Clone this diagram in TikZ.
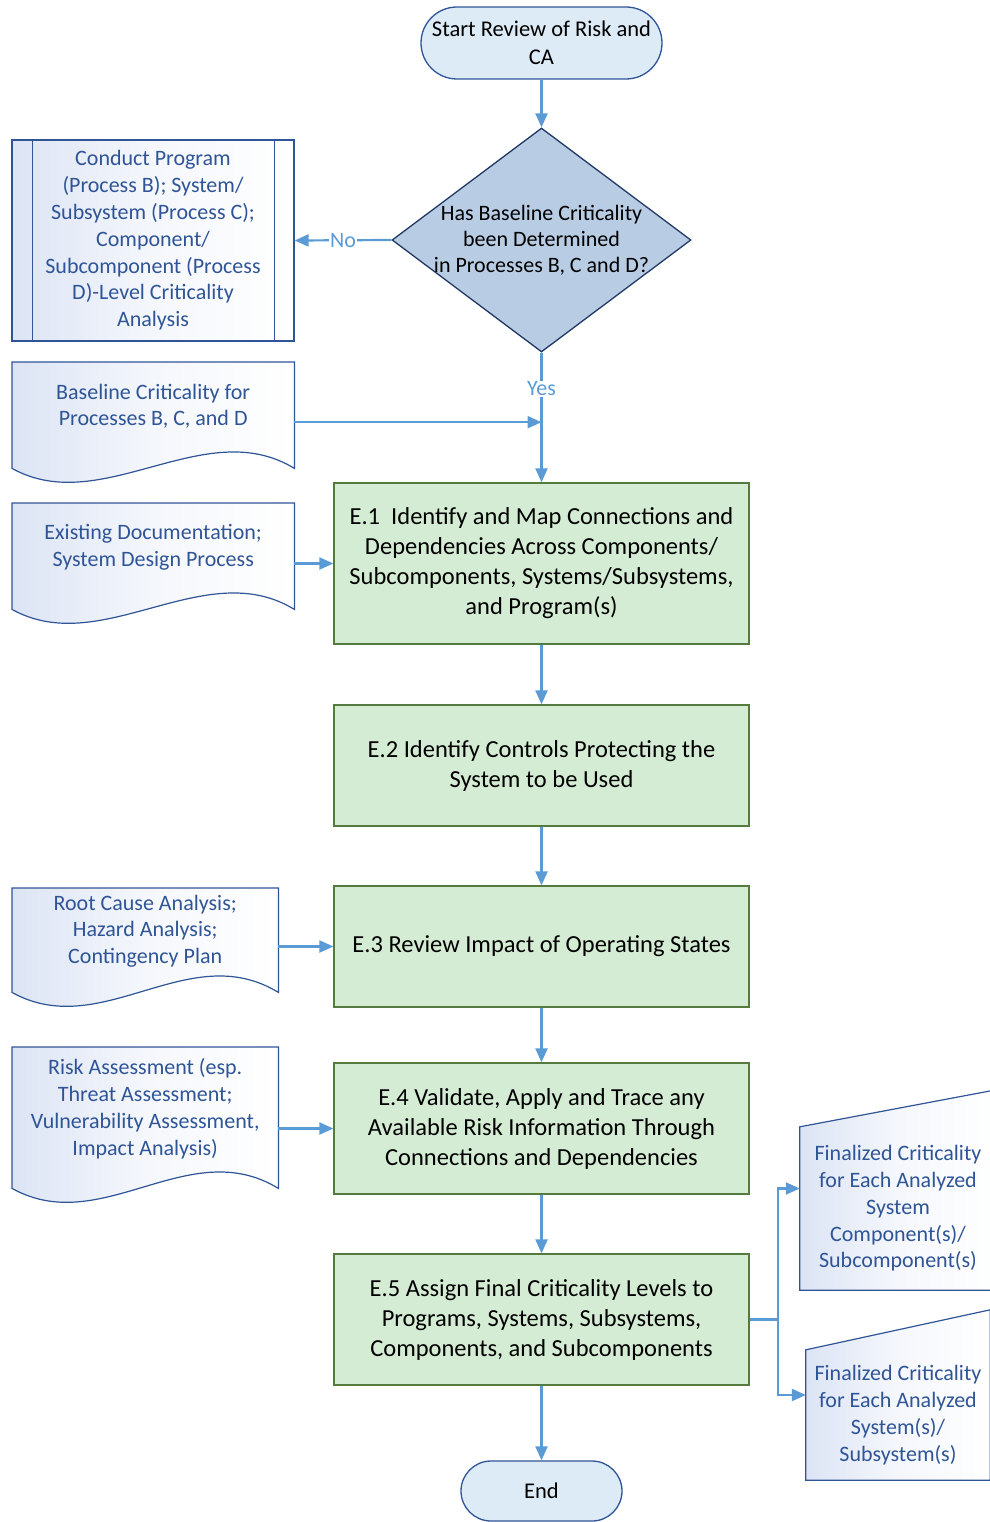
\documentclass[tikz,border=0pt]{standalone}
\usepackage{fontspec}
\setmainfont{Carlito}
\usepackage{xcolor}
\definecolor{FlowBlue}{HTML}{5B9BD5}
\definecolor{ShapeNavy}{HTML}{2F5597}
\definecolor{DiamondNavy}{HTML}{1F3864}
\definecolor{DiamondFill}{HTML}{B8CCE4}
\definecolor{TerminalFill}{HTML}{DDEBF7}
\definecolor{StepFill}{HTML}{D5ECD4}
\definecolor{StepLine}{HTML}{557A3E}
\definecolor{DocShade}{HTML}{DCE4F4}
\usepackage{tikz}
\usetikzlibrary{positioning,arrows.meta,shapes.geometric,backgrounds,calc}
\tikzset{
	terminal/.style={draw=ShapeNavy, line width=1.3pt, fill=TerminalFill, align=center, font=\fontsize{22.5pt}{28pt}\selectfont},
	stepbox/.style={draw=StepLine, line width=1.3pt, fill=StepFill, minimum width=415pt, align=center, font=\fontsize{24.5pt}{30pt}\selectfont},
	docbox/.style={anchor=north west, inner sep=0pt, align=center, text=ShapeNavy, font=\fontsize{22pt}{26.8pt}\selectfont},
	docline/.style={draw=ShapeNavy, line width=1.2pt, left color=DocShade, right color=white, middle color=white!70!DocShade},
	flow/.style={draw=FlowBlue, line width=2.2pt, -{Triangle[length=14pt,width=12pt]}},
	flowline/.style={draw=FlowBlue, line width=2.2pt},
	flowlabel/.style={fill=white, inner sep=1pt, text=FlowBlue, font=\fontsize{22pt}{26pt}\selectfont}
}
\begin{document}
\begin{tikzpicture}[x=1pt, y=-1pt]
	\useasboundingbox (0,0) rectangle (989,1522);
	\node[terminal, rounded corners=36pt, minimum width=241pt, minimum height=72pt] (start) at (541.5,43) {Start Review of Risk and\\CA};
	\node[diamond, draw=DiamondNavy, line width=1.3pt, fill=DiamondFill, inner sep=-20pt, aspect=1.33, minimum width=299pt, minimum height=224pt, align=center, font=\fontsize{22pt}{26pt}\selectfont] (dec) at (541.5,240) {Has Baseline Criticality\\been Determined\\in Processes B, C and D?};
	\node[docline, minimum width=282pt, minimum height=201pt, align=center, text=ShapeNavy, font=\fontsize{22pt}{26.8pt}\selectfont] (conduct) at (153,240.5) {Conduct Program\\(Process B); System/\\Subsystem (Process C);\\Component/\\Subcomponent (Process\\D)-Level Criticality\\Analysis};
	\node[docbox, minimum width=282pt, minimum height=88pt] (base) at (12,362) {Baseline Criticality for\\Processes B, C, and D};
	\node[docbox, minimum width=282pt, minimum height=88pt] (exist) at (12,503) {Existing Documentation;\\System Design Process};
	\node[docbox, minimum width=266pt, minimum height=86pt] (root) at (12,888) {Root Cause Analysis;\\Hazard Analysis;\\Contingency Plan};
	\node[docbox, minimum width=266pt, minimum height=123pt] (risk) at (12,1047) {Risk Assessment (esp.\\Threat Assessment;\\Vulnerability Assessment,\\Impact Analysis)};
	\node[stepbox, minimum height=161pt] (e1) at (541.5,563.5) {E.1\ \ Identify and Map Connections and\\Dependencies Across Components/\\Subcomponents, Systems/Subsystems,\\and Program(s)};
	\node[stepbox, minimum height=121pt] (e2) at (541.5,765.5) {E.2 Identify Controls Protecting the\\System to be Used};
	\node[stepbox, minimum height=121pt] (e3) at (541.5,946.5) {E.3 Review Impact of Operating States};
	\node[stepbox, minimum height=131pt] (e4) at (541.5,1128.5) {E.4 Validate, Apply and Trace any\\Available Risk Information Through\\Connections and Dependencies};
	\node[stepbox, minimum height=131pt] (e5) at (541.5,1319.5) {E.5 Assign Final Criticality Levels to\\Programs, Systems, Subsystems,\\Components, and Subcomponents};
	\node[docbox, anchor=center, minimum width=196pt, minimum height=163pt] (fin1) at (898,1208.5) {Finalized Criticality\\for Each Analyzed\\System\\Component(s)/\\Subcomponent(s)};
	\node[docbox, anchor=center, minimum width=184pt, minimum height=130pt] (fin2) at (898,1415) {Finalized Criticality\\for Each Analyzed\\System(s)/\\Subsystem(s)};
	\node[terminal, rounded corners=30pt, minimum width=161pt, minimum height=60pt] (stop) at (541.5,1491) {End};
	\coordinate (split) at (778,1319.5);
	\begin{scope}[on background layer]
		\foreach \d in {base,exist,root,risk}
			\draw[docline] (\d.north west) -- ([yshift=-18pt]\d.south west) .. controls +(90,50) and +(-90,-55) .. ([yshift=-18pt]\d.south east) -- (\d.north east) -- cycle;
		\draw[docline] (fin1.south west) -- (fin1.north west) -- ([yshift=37pt]fin1.north east) -- (fin1.south east) -- cycle;
		\draw[docline] (fin2.south west) -- (fin2.north west) -- ([yshift=40pt]fin2.north east) -- (fin2.south east) -- cycle;
	\end{scope}
	\draw[draw=ShapeNavy, line width=1.2pt] ([xshift=21pt]conduct.north west) -- ([xshift=21pt]conduct.south west);
	\draw[draw=ShapeNavy, line width=1.2pt] ([xshift=-20pt]conduct.north east) -- ([xshift=-20pt]conduct.south east);
	\draw[flow] (start) -- (dec);
	\draw[flow] (dec.west) -- node[flowlabel]{No} (conduct.east);
	\draw[flow] (dec.south) -- node[flowlabel, pos=0.28]{Yes} (e1.north);
	\draw[flow] ([yshift=-16pt]base.east) -- ([yshift=-16pt]base.east -| dec.south);
	\draw[flow] (exist.east |- e1.west) -- (e1.west);
	\draw[flow] (e1) -- (e2);
	\draw[flow] (e2) -- (e3);
	\draw[flow] (root.east |- e3.west) -- (e3.west);
	\draw[flow] (e3) -- (e4);
	\draw[flow] (risk.east |- e4.west) -- (e4.west);
	\draw[flow] (e4) -- (e5);
	\draw[flowline] (e5.east) -- (split);
	\draw[flow] (split) |- ([yshift=20pt]fin1.west);
	\draw[flow] (split) |- ([yshift=20pt]fin2.west);
	\draw[flow] (e5) -- (stop);
\end{tikzpicture}
\end{document}
